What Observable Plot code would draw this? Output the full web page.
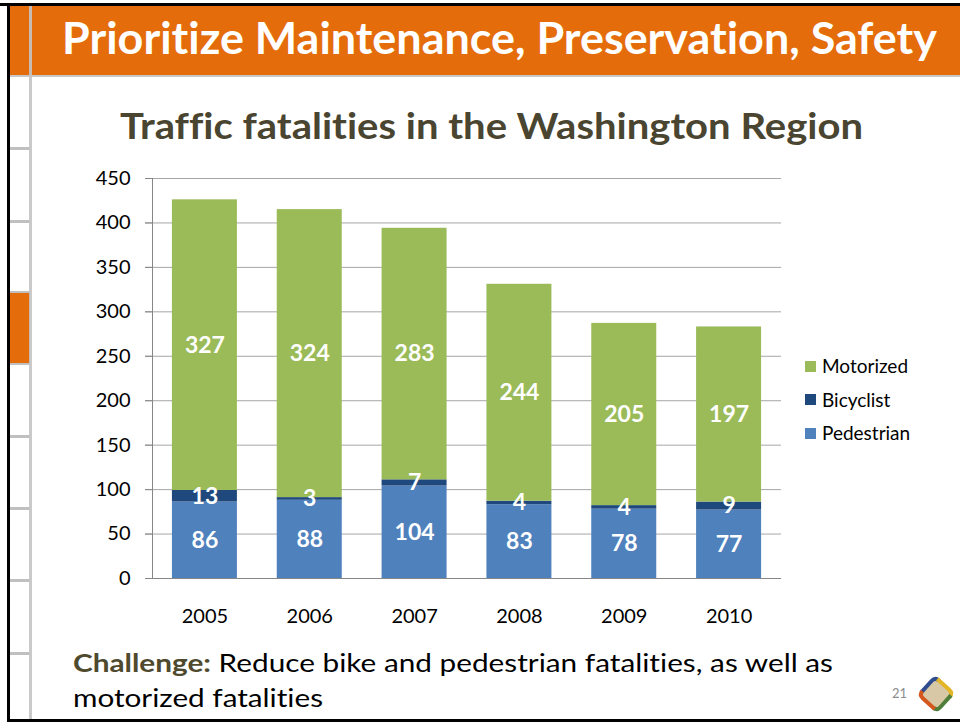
<!DOCTYPE html>
<html><head><meta charset="utf-8">
<script src="https://cdn.jsdelivr.net/npm/d3@7"></script>
<script src="https://cdn.jsdelivr.net/npm/@observablehq/plot@0.6"></script>
<style>
body{margin:0;background:#fff;}
#slide{position:relative;width:960px;height:723px;overflow:hidden;font-family:Lato,"Open Sans",sans-serif;background:#fff;font-variant-ligatures:none;font-feature-settings:"liga" 0,"clig" 0;}
#slide *{font-variant-ligatures:none;font-feature-settings:"liga" 0,"clig" 0;}
.abs{position:absolute;}
.txt{position:absolute;white-space:nowrap;line-height:1;display:inline-block;transform-origin:0 0;}
#chart{position:absolute;left:0;top:150px;}
.lg{position:absolute;font-size:19px;line-height:1;white-space:nowrap;color:#000;}
.sw{position:absolute;width:11px;height:11px;}
</style></head><body>
<div id="slide">
  <div class="abs" style="left:10px;top:6px;width:950px;height:69px;background:#E46C0A"></div>
  <div class="abs" style="left:10px;top:75px;width:950px;height:2px;background:#C8C8C8"></div>
  <div class="abs" style="left:10px;top:291px;width:20px;height:74px;background:#C0C0C0"></div>
  <div class="abs" style="left:10px;top:293px;width:20px;height:70px;background:#E46C0A"></div>
  <div class="abs" style="left:10px;top:147px;width:20px;height:3px;background:#C0C0C0"></div>
  <div class="abs" style="left:10px;top:220px;width:20px;height:3px;background:#C0C0C0"></div>
  <div class="abs" style="left:10px;top:435px;width:20px;height:3px;background:#C0C0C0"></div>
  <div class="abs" style="left:10px;top:507px;width:20px;height:3px;background:#C0C0C0"></div>
  <div class="abs" style="left:10px;top:579px;width:20px;height:3px;background:#C0C0C0"></div>
  <div class="abs" style="left:10px;top:652px;width:20px;height:3px;background:#C0C0C0"></div>
  <div class="abs" style="left:29px;top:6px;width:3px;height:714px;background:#C4C4C4;opacity:0.9"></div>
  <div class="abs" style="left:0;top:3px;width:960px;height:3px;background:#000"></div>
  <div class="abs" style="left:7px;top:3px;width:3px;height:719px;background:#000"></div>
  <div class="abs" style="left:7px;top:719px;width:953px;height:3px;background:#000"></div>

  <div id="hdr" class="txt" style="left:62px;top:15px;font-size:44px;font-weight:700;color:#fff;">Prioritize Maintenance, Preservation, Safety</div>
  <div id="ttl" class="txt" style="left:120px;top:106px;font-size:37px;font-weight:700;color:#4A4530;">Traffic fatalities in the Washington Region</div>

  <div id="chart"></div>
  <div id="legend"></div>

  <div id="cap1" class="txt" style="left:73px;top:650px;font-size:25px;color:#000;"><b style="color:#4F4A2E">Challenge:</b> Reduce bike and pedestrian fatalities, as well as</div>
  <div id="cap2" class="txt" style="left:73px;top:685px;font-size:25px;color:#000;">motorized fatalities</div>

  <div class="txt" style="left:892px;top:687px;font-size:13px;color:#8C8C8C;">21</div>
  <svg class="abs" style="left:915px;top:673px" width="42" height="42" viewBox="0 0 42 42">
    <g transform="rotate(42 21 21)">
      <rect x="9" y="9" width="24" height="24" rx="5" fill="#D8C8A6"/>
      <path d="M9 30 L9 14 Q9 9 14 9" fill="none" stroke="#2F4C8F" stroke-width="4"/>
      <path d="M12 9 L28 9 Q33 9 33 14" fill="none" stroke="#E2B628" stroke-width="4"/>
      <path d="M33 12 L33 28 Q33 33 28 33" fill="none" stroke="#4F7F3A" stroke-width="4"/>
      <path d="M30 33 L14 33 Q9 33 9 28" fill="none" stroke="#D4581E" stroke-width="4"/>
    </g>
  </svg>
</div>
<script>
const years = ["2005","2006","2007","2008","2009","2010"];
const pedestrian = [86, 88, 104, 83, 78, 77];
const bicyclist = [13, 3, 7, 4, 4, 9];
const motorized = [327, 324, 283, 244, 205, 197];
const seriesNames = ["Pedestrian", "Bicyclist", "Motorized"];
const seriesColors = ["#4F81BD", "#1F497D", "#9BBB59"];
const legendOrder = ["Motorized", "Bicyclist", "Pedestrian"];
const yTicks = [0, 50, 100, 150, 200, 250, 300, 350, 400, 450];

const seriesValues = {Pedestrian: pedestrian, Bicyclist: bicyclist, Motorized: motorized};
const rows = [];
years.forEach((yr, i) => {
  seriesNames.forEach(s => rows.push({year: yr, series: s, value: seriesValues[s][i]}));
});

const chart = Plot.plot({
  width: 800, height: 480,
  marginLeft: 152, marginRight: 19, marginTop: 28, marginBottom: 52,
  style: {fontFamily: "Lato, sans-serif", fontSize: "20px", background: "transparent", color: "#000", overflow: "visible"},
  x: {domain: years, paddingInner: 0.38, paddingOuter: 0.19, round: false, axis: null},
  y: {domain: [0, 450], axis: null},
  color: {domain: seriesNames, range: seriesColors},
  marks: [
    Plot.ruleY(yTicks.filter(d => d > 0), {stroke: "#A6A6A6", strokeWidth: 1, insetLeft: -7}),
    Plot.axisY(yTicks, {tickSize: 7, tickPadding: 15, stroke: "#868686", fill: "#000", label: null}),
    Plot.axisX({tickSize: 0, tickPadding: 30, fill: "#000", label: null}),
    Plot.barY(rows, {x: "year", y: "value", fill: "series"}),
    Plot.text(rows, Plot.stackY({x: "year", y: "value", text: d => String(d.value), fill: "white", fontWeight: "bold", fontSize: 23})),
    Plot.ruleY([0], {stroke: "#868686", insetLeft: -7}),
    Plot.frame({anchor: "left", stroke: "#868686"})
  ]
});
document.getElementById("chart").appendChild(chart);

const legend = document.getElementById("legend");
legendOrder.forEach((s, i) => {
  const top = 366 + i * 33.5;
  const sw = document.createElement("div");
  sw.className = "sw";
  sw.style.left = "805px"; sw.style.top = (top - 5.5) + "px";
  sw.style.background = seriesColors[seriesNames.indexOf(s)];
  legend.appendChild(sw);
  const t = document.createElement("div");
  t.className = "lg";
  t.style.left = "822px"; t.style.top = (top - 10) + "px";
  t.textContent = s;
  legend.appendChild(t);
});

function fit(id, w) {
  const el = document.getElementById(id);
  const r = el.getBoundingClientRect().width;
  el.style.transform = `scaleX(${w / r})`;
}
fit("hdr", 875);
fit("ttl", 743);
fit("cap1", 760);
fit("cap2", 250);
</script>
</body></html>
